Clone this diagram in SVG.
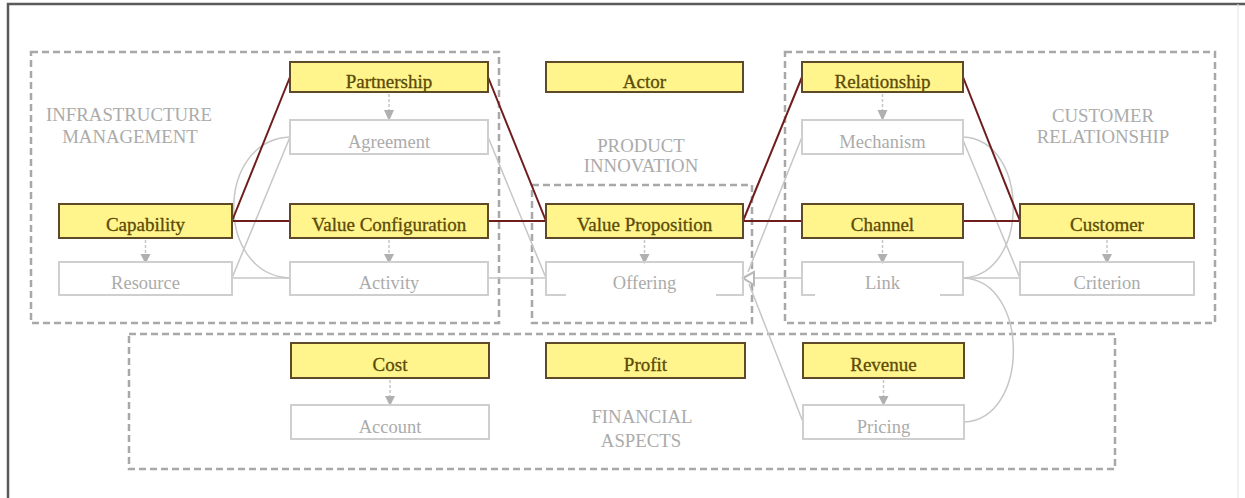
<svg xmlns="http://www.w3.org/2000/svg" width="1245" height="498" viewBox="0 0 1245 498">
<style>
.frame{fill:none;stroke:#5a5a5a;stroke-width:2.5}
.grp{fill:none;stroke:#a8a8a8;stroke-width:2.5;stroke-dasharray:7 4}
.glbl{font-family:"Liberation Serif",serif;font-size:18.8px;fill:#ababab;text-anchor:middle}
.yb{fill:#fff58c;stroke:#5e4a28;stroke-width:2}
.gb{fill:#ffffff;stroke:#cfcfcf;stroke-width:2}
.gbo{fill:none;stroke:#cfcfcf;stroke-width:2}
.yt{font-family:"Liberation Serif",serif;font-size:19px;fill:#5c4a08;text-anchor:middle;stroke:#5c4a08;stroke-width:0.3}
.gt{font-family:"Liberation Serif",serif;font-size:18.5px;fill:#ababab;text-anchor:middle}
.red{fill:none;stroke:#6e1c1c;stroke-width:2}
.gl{fill:none;stroke:#c6c6c6;stroke-width:1.5}
.dl{fill:none;stroke:#c6c6c6;stroke-width:1.5;stroke-dasharray:3 2}
.tri{fill:#b0b0b0}
</style>
<rect x="0" y="0" width="1245" height="498" fill="#ffffff"/>
<path class="frame" d="M8,498 V4 H1245"/>
<line x1="1238" y1="4" x2="1238" y2="498" stroke="#e2e2e2" stroke-width="1"/>

<g id="groups">
<g id="infrastructure-management">
<rect class="grp" x="31" y="52" width="468" height="271"/>
<text class="glbl" x="129" y="121">INFRASTRUCTURE</text>
<text class="glbl" x="130" y="143">MANAGEMENT</text>
</g>
<g id="product-innovation">
<rect class="grp" x="532" y="185" width="220" height="138"/>
<text class="glbl" x="641" y="152">PRODUCT</text>
<text class="glbl" x="641" y="172">INNOVATION</text>
</g>
<g id="customer-relationship">
<rect class="grp" x="785" y="52" width="430" height="271"/>
<text class="glbl" x="1103" y="122">CUSTOMER</text>
<text class="glbl" x="1103" y="143">RELATIONSHIP</text>
</g>
<g id="financial-aspects">
<rect class="grp" x="129" y="334" width="986" height="135"/>
<text class="glbl" x="642" y="423">FINANCIAL</text>
<text class="glbl" x="641" y="447">ASPECTS</text>
</g>
</g>

<g id="connectors">
<line class="gl" x1="232" y1="278" x2="290" y2="137"/>
<path class="gl" d="M290,137 C215,140 215,275 290,278"/>
<line class="gl" x1="232" y1="278" x2="290" y2="278"/>
<line class="gl" x1="488" y1="137" x2="546" y2="278"/>
<line class="gl" x1="488" y1="278" x2="546" y2="278"/>
<line class="gl" x1="802" y1="137" x2="748" y2="272"/>
<line class="gl" x1="802" y1="278" x2="752" y2="278"/>
<line class="gl" x1="803" y1="422" x2="749" y2="284"/>
<polygon points="743,278 754,272 754,285" fill="#ffffff" stroke="#b8b8b8" stroke-width="2"/>
<path class="gl" d="M963,137 C1030,140 1030,275 963,278"/>
<line class="gl" x1="963" y1="140" x2="1020" y2="278"/>
<line class="gl" x1="963" y1="278" x2="1020" y2="278"/>
<path class="gl" d="M963,278 C1030,280 1030,420 964,422"/>
<line class="red" x1="232" y1="221" x2="290" y2="77"/>
<line class="red" x1="232" y1="221" x2="290" y2="221"/>
<line class="red" x1="488" y1="77" x2="546" y2="221"/>
<line class="red" x1="488" y1="221" x2="546" y2="221"/>
<line class="red" x1="743" y1="221" x2="802" y2="77"/>
<line class="red" x1="743" y1="221" x2="802" y2="221"/>
<line class="red" x1="963" y1="77" x2="1020" y2="221"/>
<line class="red" x1="963" y1="221" x2="1020" y2="221"/>
<line class="dl" x1="145.5" y1="240" x2="145.5" y2="254"/><polygon class="tri" points="140.5,254 150.5,254 145.5,264"/>
<line class="dl" x1="389" y1="94" x2="389" y2="110"/><polygon class="tri" points="384,110 394,110 389,121"/>
<line class="dl" x1="389" y1="240" x2="389" y2="254"/><polygon class="tri" points="384,254 394,254 389,264"/>
<line class="dl" x1="644.5" y1="240" x2="644.5" y2="254"/><polygon class="tri" points="639.5,254 649.5,254 644.5,264"/>
<line class="dl" x1="882.5" y1="94" x2="882.5" y2="110"/><polygon class="tri" points="877.5,110 887.5,110 882.5,121"/>
<line class="dl" x1="882.5" y1="240" x2="882.5" y2="254"/><polygon class="tri" points="877.5,254 887.5,254 882.5,264"/>
<line class="dl" x1="1107" y1="240" x2="1107" y2="254"/><polygon class="tri" points="1102,254 1112,254 1107,264"/>
<line class="dl" x1="390" y1="380" x2="390" y2="396"/><polygon class="tri" points="385,396 395,396 390,406"/>
<line class="dl" x1="883.5" y1="380" x2="883.5" y2="396"/><polygon class="tri" points="878.5,396 888.5,396 883.5,406"/>
</g>

<g id="partnership"><rect class="yb" x="290" y="62" width="198" height="30"/><text class="yt" x="389" y="88">Partnership</text></g>
<g id="agreement"><rect class="gb" x="290" y="120" width="198" height="34"/><text class="gt" x="389" y="148">Agreement</text></g>
<g id="capability"><rect class="yb" x="59" y="204" width="173" height="34"/><text class="yt" x="145.5" y="231">Capability</text></g>
<g id="resource"><rect class="gb" x="59" y="262" width="173" height="33"/><text class="gt" x="145.5" y="289">Resource</text></g>
<g id="value-configuration"><rect class="yb" x="290" y="204" width="198" height="34"/><text class="yt" x="389" y="231">Value Configuration</text></g>
<g id="activity"><rect class="gb" x="290" y="262" width="198" height="33"/><text class="gt" x="389" y="289">Activity</text></g>
<g id="actor"><rect class="yb" x="546" y="62" width="197" height="30"/><text class="yt" x="644.5" y="88">Actor</text></g>
<g id="value-proposition"><rect class="yb" x="546" y="204" width="197" height="34"/><text class="yt" x="644.5" y="231">Value Proposition</text></g>
<g id="offering"><path class="gbo" d="M566,295 H546 V262 H743 V295 H716"/><text class="gt" x="644.5" y="289">Offering</text></g>
<g id="relationship"><rect class="yb" x="802" y="62" width="161" height="30"/><text class="yt" x="882.5" y="88">Relationship</text></g>
<g id="mechanism"><rect class="gb" x="802" y="120" width="161" height="34"/><text class="gt" x="882.5" y="148">Mechanism</text></g>
<g id="channel"><rect class="yb" x="802" y="204" width="161" height="34"/><text class="yt" x="882.5" y="231">Channel</text></g>
<g id="link"><path class="gbo" d="M815,295 H802 V262 H963 V295 H940"/><text class="gt" x="882.5" y="289">Link</text></g>
<g id="customer"><rect class="yb" x="1020" y="204" width="174" height="34"/><text class="yt" x="1107" y="231">Customer</text></g>
<g id="criterion"><rect class="gb" x="1020" y="262" width="174" height="33"/><text class="gt" x="1107" y="289">Criterion</text></g>
<g id="cost"><rect class="yb" x="291" y="343" width="198" height="35"/><text class="yt" x="390" y="371">Cost</text></g>
<g id="account"><rect class="gb" x="291" y="405" width="198" height="34"/><text class="gt" x="390" y="433">Account</text></g>
<g id="profit"><rect class="yb" x="546" y="343" width="199" height="35"/><text class="yt" x="645.5" y="371">Profit</text></g>
<g id="revenue"><rect class="yb" x="803" y="343" width="161" height="35"/><text class="yt" x="883.5" y="371">Revenue</text></g>
<g id="pricing"><rect class="gb" x="803" y="405" width="161" height="34"/><text class="gt" x="883.5" y="433">Pricing</text></g>
</svg>
